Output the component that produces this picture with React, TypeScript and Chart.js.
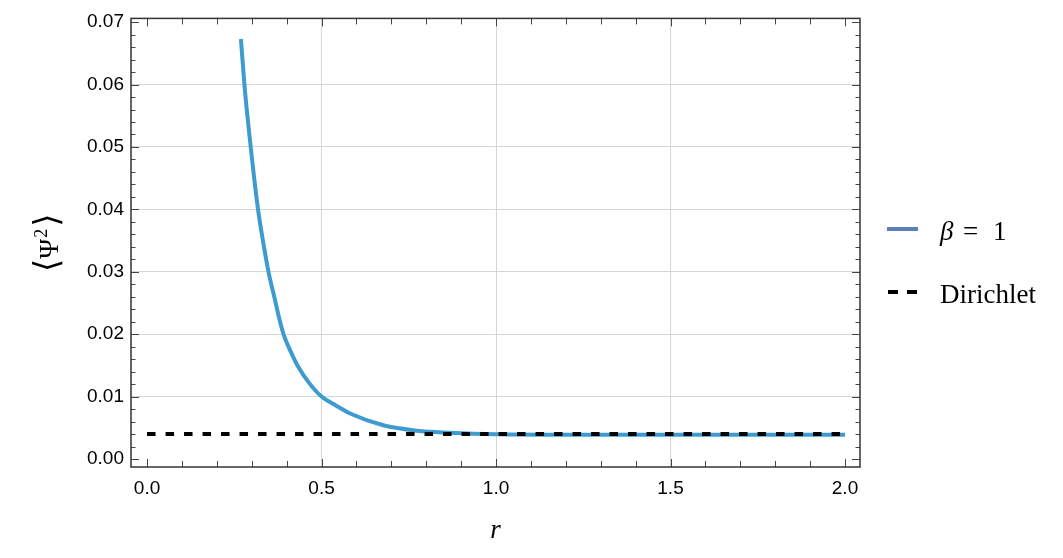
import { useEffect, useRef } from 'react'
import { Chart, registerables, type Plugin } from 'chart.js'

Chart.register(...registerables)

// ─── Data ───────────────────────────────────────────────────────────────────

const R_VALUES  = [0.269, 0.279, 0.298, 0.318, 0.332, 0.348, 0.367, 0.378, 0.391, 0.410, 0.434, 0.467, 0.5, 0.534, 0.582, 0.677, 0.773, 0.868, 1.0, 1.25, 1.5, 1.75, 2.0]
const PSI_BETA1 = [0.0673, 0.060, 0.0495, 0.040, 0.035, 0.030, 0.0254, 0.0227, 0.020, 0.0174, 0.0147, 0.0120, 0.0100, 0.0088, 0.0073, 0.0054, 0.00454, 0.00422, 0.00398, 0.0039, 0.00388, 0.00387, 0.00387]

const DIRICHLET_R   = [0, 2]
const DIRICHLET_PSI = [0.004, 0.004]

const X_TICKS = [0, 0.5, 1, 1.5, 2]
const Y_TICKS = [0, 0.01, 0.02, 0.03, 0.04, 0.05, 0.06, 0.07]

const LEGEND_LABELS = ['β = 1', 'Dirichlet']
const Y_TITLE = ['⟨', 'Ψ', '2', '⟩']   // ⟨Ψ²⟩ typeset piece by piece

// ─── Styling ────────────────────────────────────────────────────────────────

const COLOR_CURVE  = '#3e9bcf'
const COLOR_LEGEND = '#5b80b8'
const COLOR_FRAME  = '#333333'
const COLOR_GRID   = '#d6d6d6'
const SERIF        = '"Liberation Serif", "DejaVu Serif", serif'
const SANS         = '"Liberation Sans", Arial, sans-serif'

// ─── Plugins ────────────────────────────────────────────────────────────────

// Mathematica-style frame with inward ticks on all four sides
const framePlugin: Plugin = {
  id: 'frame',
  afterDatasetsDraw(chart) {
    const { ctx, chartArea: a, scales } = chart
    const xs = scales.x
    const ys = scales.y
    ctx.save()
    ctx.strokeStyle = '#444'
    ctx.lineWidth = 1
    ctx.beginPath()
    // x ticks: minor every 0.1, major every 0.5
    for (let i = 0; i <= 20; i++) {
      const px = Math.round(xs.getPixelForValue(i / 10)) + 0.5
      const len = i % 5 === 0 ? 8 : 6
      ctx.moveTo(px, a.bottom); ctx.lineTo(px, a.bottom - len)
      ctx.moveTo(px, a.top);    ctx.lineTo(px, a.top + len)
    }
    // y ticks: minor every 0.002, major every 0.01
    for (let i = 0; i <= 35; i++) {
      const py = Math.round(ys.getPixelForValue(i * 0.002)) + 0.5
      const len = i % 5 === 0 ? 8 : 4.5
      ctx.moveTo(a.left, py);  ctx.lineTo(a.left + len, py)
      ctx.moveTo(a.right, py); ctx.lineTo(a.right - len, py)
    }
    ctx.stroke()

    ctx.strokeStyle = COLOR_FRAME
    ctx.lineWidth = 1.5
    ctx.strokeRect(a.left, a.top, a.right - a.left, a.bottom - a.top)
    ctx.restore()
  },
}

// Rotated y-axis title ⟨Ψ²⟩ with tall brackets and a raised superscript
const yTitlePlugin: Plugin = {
  id: 'yTitle',
  afterDraw(chart) {
    const { ctx, chartArea: a } = chart
    const [lb, psi, sup, rb] = Y_TITLE
    const fBracket = `34px "DejaVu Serif", serif`
    const fPsi     = `27px ${SERIF}`
    const fSup     = `18px ${SERIF}`
    ctx.save()
    ctx.font = fBracket; const wb = ctx.measureText(lb).width
    ctx.font = fPsi;     const wp = ctx.measureText(psi).width
    ctx.font = fSup;     const ws = ctx.measureText(sup).width
    const total = wb * 2 + wp + ws + 3
    ctx.translate(49, (a.top + a.bottom) / 2)
    ctx.rotate(-Math.PI / 2)
    ctx.fillStyle = '#000'
    let x = -total / 2
    ctx.textBaseline = 'middle'
    ctx.font = fBracket; ctx.fillText(lb, x, 0); x += wb
    ctx.textBaseline = 'alphabetic'
    ctx.font = fPsi;     ctx.fillText(psi, x, 9); x += wp + 1
    ctx.font = fSup;     ctx.fillText(sup, x, -2); x += ws + 2
    ctx.textBaseline = 'middle'
    ctx.font = fBracket; ctx.fillText(rb, x, 0)
    ctx.restore()
  },
}

// Legend on the right, with a TeX-like "β = 1"
const legendPlugin: Plugin = {
  id: 'sideLegend',
  afterDraw(chart) {
    const { ctx, chartArea: a } = chart
    const x0 = a.right + 27
    const tx = a.right + 80
    ctx.save()

    ctx.strokeStyle = COLOR_LEGEND
    ctx.lineWidth = 4
    ctx.beginPath(); ctx.moveTo(x0, 229); ctx.lineTo(x0 + 31, 229); ctx.stroke()

    ctx.fillStyle = '#000'
    ctx.textBaseline = 'alphabetic'
    const [beta, rest] = LEGEND_LABELS[0].split(' = ')
    ctx.font = `italic 27px ${SERIF}`
    ctx.fillText(beta, tx, 240)
    ctx.font = `27px ${SERIF}`
    ctx.fillText('=', tx + 23, 240)
    ctx.fillText(rest, tx + 53, 240)

    ctx.strokeStyle = '#000'
    ctx.setLineDash([10, 9])
    ctx.beginPath(); ctx.moveTo(x0 + 1, 292); ctx.lineTo(x0 + 30, 292); ctx.stroke()
    ctx.setLineDash([])
    ctx.fillText(LEGEND_LABELS[1], tx, 303)

    ctx.restore()
  },
}

// ─── Component ──────────────────────────────────────────────────────────────

export default function App() {
  const canvasRef = useRef<HTMLCanvasElement>(null)

  useEffect(() => {
    const canvas = canvasRef.current
    if (!canvas) return

    // 'line' (not 'scatter') so the controller updates bezier control points
    const chart = new Chart(canvas, {
      type: 'line',
      data: {
        datasets: [
          {
            label: LEGEND_LABELS[1],
            data: DIRICHLET_R.map((r, i) => ({ x: r, y: DIRICHLET_PSI[i] })),
            borderColor: '#000',
            borderWidth: 4,
            borderDash: [8.5, 10],
            pointRadius: 0,
            fill: false,
          },
          {
            label: LEGEND_LABELS[0],
            data: R_VALUES.map((r, i) => ({ x: r, y: PSI_BETA1[i] })),
            borderColor: COLOR_CURVE,
            borderWidth: 4,
            cubicInterpolationMode: 'monotone',
            pointRadius: 0,
            fill: false,
          },
        ],
      },
      options: {
        animation: false,
        responsive: false,
        layout: { padding: { top: 18, right: 203, left: 0, bottom: 0 } },
        plugins: {
          legend: { display: false },
          tooltip: { enabled: false },
        },
        scales: {
          x: {
            type: 'linear',
            min: -0.046,
            max: 2.043,
            afterFit: (s) => { s.height = 91 },
            afterBuildTicks: (s) => { s.ticks = X_TICKS.map((v) => ({ value: v })) },
            ticks: {
              color: '#000',
              font: { family: SANS, size: 19 },
              padding: 10,
              maxRotation: 0,
              callback: (v) => Number(v).toFixed(1),
            },
            grid: {
              drawTicks: false,
              color: (c) => (c.tick && (c.tick.value <= 0 || c.tick.value >= 2) ? 'transparent' : COLOR_GRID),
            },
            border: { display: false },
            title: {
              display: true,
              text: 'r',
              color: '#000',
              font: { family: SERIF, size: 27, style: 'italic' },
              padding: { bottom: 11 },
            },
          },
          y: {
            type: 'linear',
            min: -0.00128,
            max: 0.0706,
            afterFit: (s) => { s.width = 131 },
            afterBuildTicks: (s) => { s.ticks = Y_TICKS.map((v) => ({ value: v })) },
            ticks: {
              color: '#000',
              font: { family: SANS, size: 19 },
              padding: 7,
              callback: (v) => Number(v).toFixed(2),
            },
            grid: {
              drawTicks: false,
              color: (c) => (c.tick && (c.tick.value <= 0 || c.tick.value >= 0.07) ? 'transparent' : COLOR_GRID),
            },
            border: { display: false },
          },
        },
      },
      plugins: [framePlugin, yTitlePlugin, legendPlugin],
    })

    return () => chart.destroy()
  }, [])

  return (
    <div style={{ position: 'fixed', left: 0, top: 0, width: 1063, height: 558, background: '#fff' }}>
      <canvas ref={canvasRef} width={1063} height={558} style={{ display: 'block' }} />
    </div>
  )
}
